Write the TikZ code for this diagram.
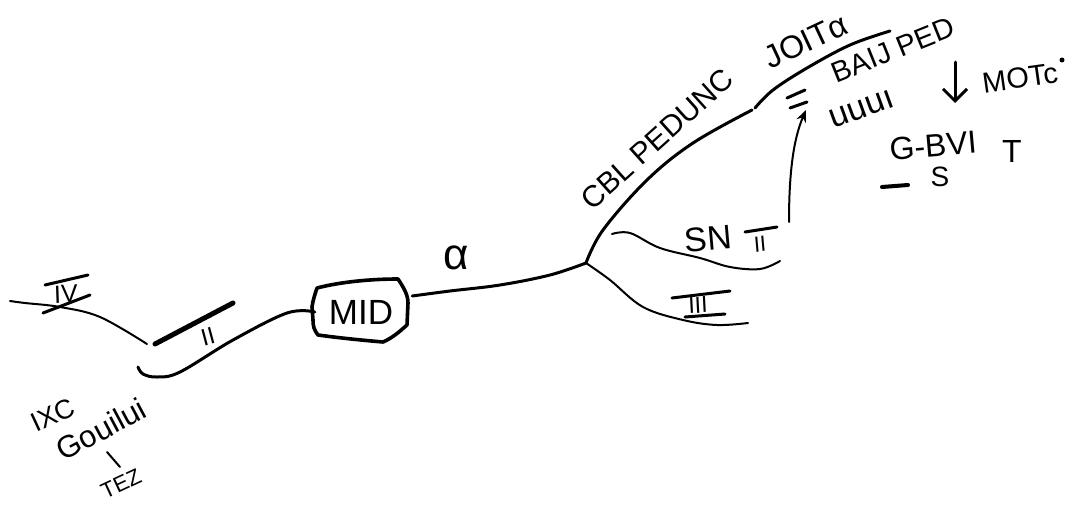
\documentclass[tikz,border=0pt]{standalone}
\usepackage{fontspec}
\setmainfont{Liberation Sans}
\usetikzlibrary{arrows.meta}
\tikzset{
  x=1pt,y=-1pt,
  ink/.style={draw=black,line cap=round,line join=round,line width=2pt},
  inkmid/.style={ink,line width=3pt},
  inkheavy/.style={ink,line width=3.6pt},
  bar/.style={ink,line width=3pt},
  hand/.style={font=\fontsize{#1}{#1}\selectfont,text=black,inner sep=0pt},
  hand/.default=24
}
\begin{document}
\begin{tikzpicture}
\useasboundingbox (0,0) rectangle (1085,504);
% named points
\coordinate (ivend) at (10,301);
\coordinate (ivjoin) at (147,344);
\coordinate (lowend) at (138,367);
\coordinate (junction) at (586,263);
\coordinate (topend) at (752,110);
\coordinate (topstart) at (755,108);
\coordinate (topfar) at (890,31);
\coordinate (sntstart) at (612,234);
\coordinate (sntend) at (780,261);
\coordinate (iiiend) at (748,323);
\coordinate (arrowstart) at (789,222);
\coordinate (arrowtip) at (806,110);
\coordinate (downstart) at (955,62);
\coordinate (downtip) at (955,103);
\coordinate (tickstart) at (107,452);
\coordinate (tickend) at (120,467);
% central box
\node[hand=35,minimum width=92pt,minimum height=56pt] (mid) at (361,312) {MID};
\draw[inkheavy] (317,288) .. controls (340,282) and (370,279) .. (398,279)
  .. controls (404,288) and (408,295) .. (408,303) -- (407,325)
  .. controls (398,333) and (392,338) .. (383,342)
  .. controls (360,340) and (340,338) .. (318,335)
  .. controls (314,330) and (313,326) .. (313,320) -- (312,307)
  .. controls (313,300) and (315,294) .. (317,288);
% connectors
\draw[ink] plot[smooth,tension=.6] coordinates {(ivend) (25,303) (60,307) (100,317) (ivjoin)};
\draw[inkmid] plot[smooth,tension=.6] coordinates {(lowend) (143,374) (157,377) (180,372) (233,340) (287,313) (mid.west)};
\draw[inkmid] plot[smooth,tension=.6] coordinates {([yshift=16pt,xshift=5pt]mid.east) (450,291) (500,285) (550,275) (junction)};
\draw[inkmid] plot[smooth,tension=.6] coordinates {(junction) (603,230) (647,180) (693,143) (topend)};
\draw[inkmid] plot[smooth,tension=.6] coordinates {(topstart) (773,90) (807,68) (850,45) (topfar)};
\draw[ink] plot[smooth,tension=.6] coordinates {(sntstart) (630,233) (660,248) (700,258) (730,267) (760,269) (sntend)};
\draw[ink] plot[smooth,tension=.6] coordinates {(junction) (610,280) (643,307) (683,320) (717,325) (iiiend)};
\draw[ink,-{Stealth[length=12pt,width=10pt]}] (arrowstart) .. controls (789,175) and (793,140) .. (arrowtip);
\draw[inkmid,-{Straight Barb[length=12pt,width=24pt]}] (downstart) -- (downtip);
\draw[ink] (tickstart) -- (tickend);
% bars
\draw[inkheavy,line width=5pt] (155,344) -- (233,303);
\draw[bar] (45,285) -- (88,275);
\draw[bar] (43,313) -- (90,295);
\draw[bar] (672,298) -- (730,291);
\draw[bar] (685,317) -- (725,314);
\draw[bar] (745,232) -- (777,227);
\draw[bar] (787,98) -- (805,90);
\draw[bar] (790,108) -- (807,102);
\draw[inkheavy,line width=4pt] (882,187) -- (908,185);
\fill (1062,60) circle (2.5pt);
% labels
\node[hand=25,rotate=2] (iv) at (66,294) {IV};
\node[hand=24,rotate=15] (ii) at (208,337) {II};
\node[hand=44] (alpha) at (456,258) {α};
\node[hand=30,rotate=42] (cbl) at (657,139) {CBL PEDUNC};
\node[hand=32,rotate=25] (foit) at (806,41) {JOITα};
\node[hand=29,rotate=22] (bail) at (893,50) {BAIJ PED};
\node[hand=34,rotate=20] (uuu) at (862,109) {uuuı};
\node[hand=29,rotate=8] (mot) at (1020,78) {MOTc};
\node[hand=32,rotate=5] (gbvi) at (933,146) {G-BVI};
\node[hand=32] (t) at (1012,151) {T};
\node[hand=28] (s) at (940,177) {S};
\node[hand=34,rotate=5] (sn) at (708,239) {SN};
\node[hand=22,rotate=5] (sntii) at (760,244) {II};
\node[hand=23,rotate=3] (iii) at (698,305) {III};
\node[hand=27,rotate=25] (ixc) at (53,415) {IXC};
\node[hand=31,rotate=28] (goui) at (101,429) {Gouilui};
\node[hand=22,rotate=25] (tez) at (121,484) {TEZ};
\end{tikzpicture}
\end{document}
